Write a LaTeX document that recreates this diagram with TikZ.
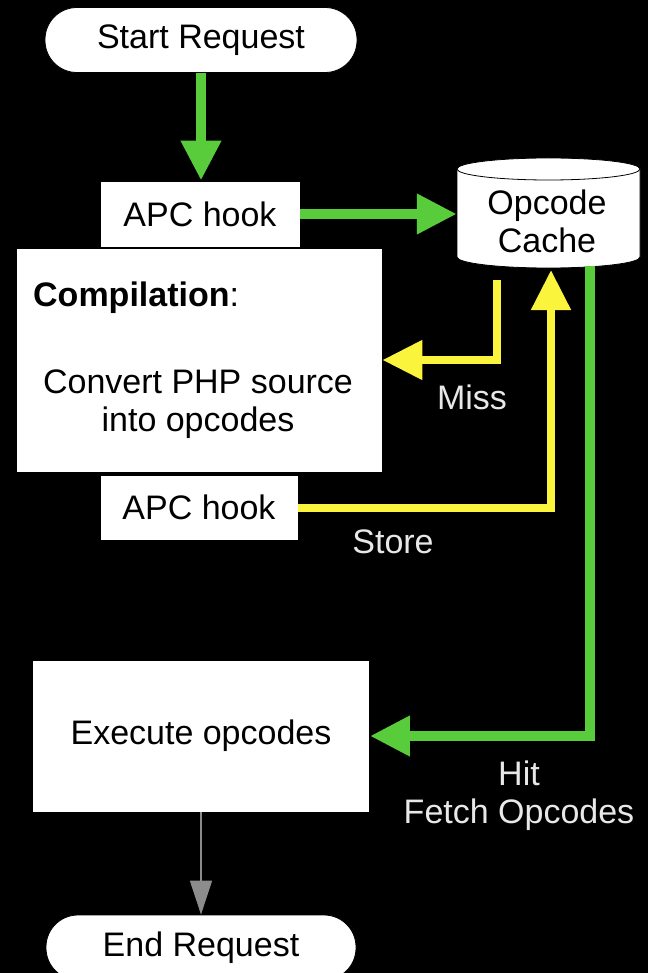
\documentclass[tikz,border=0pt]{standalone}
\usepackage{fontspec}
\setmainfont{Liberation Sans}
\usetikzlibrary{arrows.meta}
\definecolor{agreen}{RGB}{88,204,58}
\definecolor{ayellow}{RGB}{250,245,60}
\definecolor{agray}{RGB}{140,140,140}
\definecolor{lbl}{RGB}{232,232,232}
\begin{document}
\begin{tikzpicture}[x=1pt,y=-1pt,
  every node/.style={font=\fontsize{34}{38}\selectfont},
  box/.style={draw=black, line width=0.8pt, fill=white, inner sep=0pt, text=black},
  pill/.style={box, rounded corners=32pt},
  garrow/.style={draw=agreen, line width=10pt, -{Triangle[width=38pt,length=40pt]}},
  yarrow/.style={draw=ayellow, line width=8pt, -{Triangle[width=38pt,length=40pt]}},
  grarrow/.style={draw=agray, line width=1.5pt, -{Triangle[width=22pt,length=34pt]}},
  lab/.style={text=lbl}]
\fill[black] (0,0) rectangle (648,973);
\useasboundingbox (0,0) rectangle (648,973);
\clip (0,0) rectangle (648,973);

% nodes
\node[pill, minimum width=312pt, minimum height=65pt] (start) at (201,40) {Start Request};
\node[box, minimum width=200pt, minimum height=66pt] (hook1) at (200,214) {APC hook};
\node[box, minimum width=366pt, minimum height=224pt] (comp) at (199,360) {};
\node[anchor=west, inner sep=0pt] (comptitle) at (33,298) {\textbf{Compilation}:};
\node[align=center, inner sep=0pt] (comptext) at (198,404) {Convert PHP source\\into opcodes};
\node[box, minimum width=198pt, minimum height=65pt] (hook2) at (199,507.5) {APC hook};
\node[box, minimum width=337pt, minimum height=152pt] (exec) at (201,736) {Execute opcodes};
\node[pill, minimum width=310pt, minimum height=65pt] (end) at (201,947.5) {End Request};

% cylinder (opcode cache)
\fill[white] (457,169) -- (457,257) arc[start angle=180, end angle=0, x radius=91.5, y radius=11] -- (640,169) -- cycle;
\fill[white] (548.5,169) ellipse [x radius=91.5, y radius=11];
\draw[line width=0.8pt] (457,169) -- (457,257) arc[start angle=180, end angle=0, x radius=91.5, y radius=11] -- (640,169);
\draw[line width=0.8pt] (548.5,169) ellipse [x radius=91.5, y radius=11];
\node[minimum width=183pt, minimum height=110pt, inner sep=0pt] (cache) at (548.5,213) {};
\node[align=center, inner sep=0pt] (cachetext) at (547,221) {Opcode\\Cache};

\coordinate (missstart) at (497,280);
\coordinate (storeend) at (551,270);
\coordinate (hitstart) at (590,266);

% connectors
\draw[garrow] (start.south) -- (hook1.north -| start.south);
\draw[garrow] (hook1.east) -- (hook1.east -| cache.west);
\draw[yarrow] (missstart) |- (comp.east);
\draw[yarrow] (hook2.east) -| (storeend);
\draw[garrow] (hitstart) |- (exec.east);
\draw[grarrow] (exec.south) -- (end.north);

% labels
\node[lab] (miss) at (472,397) {Miss};
\node[lab] (store) at (393,542) {Store};
\node[lab] (hit) at (519,773) {Hit};
\node[lab] (fetch) at (519,815) {Fetch Opcodes};
\end{tikzpicture}
\end{document}
